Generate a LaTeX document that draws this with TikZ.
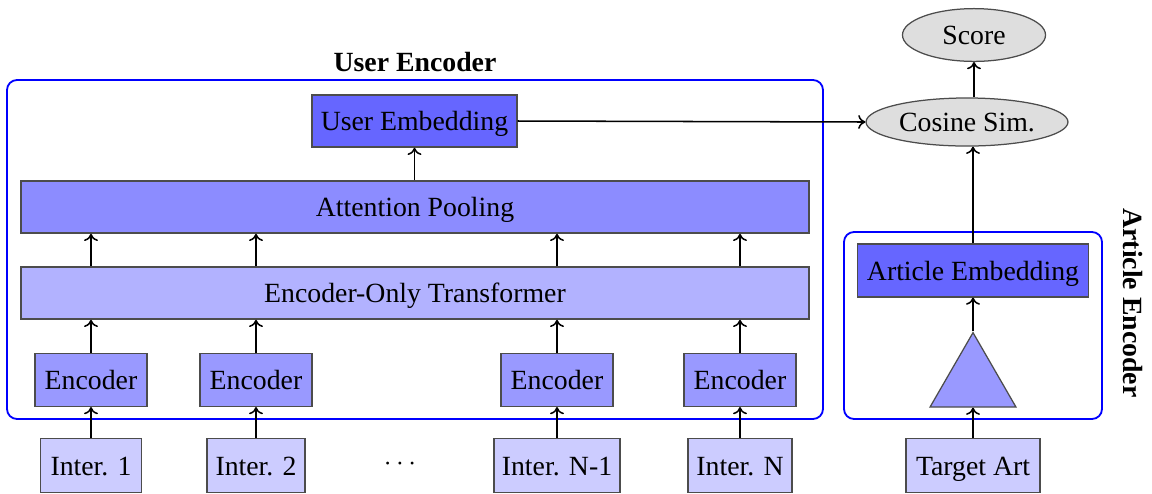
\documentclass[tikz,border=0pt]{standalone}
\usepackage{fontspec}
\setmainfont{Liberation Serif}
\usetikzlibrary{shapes.geometric,arrows.meta}
\begin{document}
\begin{tikzpicture}[x=0.36pt,y=-0.36pt,
  font=\fontsize{10}{12}\selectfont,
  box/.style={draw=black!70, line width=0.45pt, minimum height=18.8pt, inner sep=0pt, anchor=center, text depth=0pt, text height=7pt},
  cont/.style={draw=blue, line width=0.65pt, rounded corners=3.6pt},
  ell/.style={draw=black!70, fill=black!13, ellipse, inner sep=0pt, line width=0.45pt, text depth=0pt, text height=7pt},
  arr/.style={-{To[length=2.6pt,width=5pt]}, line width=0.55pt, black}]
\useasboundingbox (0,0) rectangle (1152,493);
% containers
\draw[cont] (7,80) rectangle (823,419);
\draw[cont] (844,232) rectangle (1102,419);
\node[font=\fontsize{10}{12}\selectfont\bfseries] (ueTitle) at (415,62) {User Encoder};
\node[font=\fontsize{10}{12}\selectfont\bfseries, rotate=-90] (aeTitle) at (1133,303) {Article Encoder};
% user side
\node[box, fill=blue!60, minimum width=73.8pt] (uemb) at (414.5,121) {User Embedding};
\node[box, fill=blue!45, minimum width=283.7pt] (pool) at (415,207) {Attention Pooling};
\node[box, fill=blue!30, minimum width=283.7pt] (trans) at (415,293) {Encoder-Only Transformer};
\foreach \n/\x in {1/91,2/256,3/557,4/740}{
  \node[box, fill=blue!40, minimum width=40.3pt, minimum height=19pt] (enc\n) at (\x,380) {Encoder};
}
\node[box, fill=blue!20, minimum width=36.4pt, minimum height=19.5pt] (in1) at (91,465.5) {Inter. 1};
\node[box, fill=blue!20, minimum width=35.3pt, minimum height=19.5pt] (in2) at (256,465.5) {Inter. 2};
\node[box, fill=blue!20, minimum width=45.4pt, minimum height=19.5pt] (in3) at (557,465.5) {Inter. N-1};
\node[box, fill=blue!20, minimum width=37.4pt, minimum height=19.5pt] (in4) at (740,465.5) {Inter. N};
\node (dots) at (400,464) {$\cdots$};
\foreach \n in {1,2,3,4}{
  \draw[arr] (in\n.north) -- (enc\n.south);
  \draw[arr] (enc\n.north) -- (trans.south -| enc\n.north);
  \draw[arr] (trans.north -| enc\n.north) -- (pool.south -| enc\n.north);
}
\draw[arr] (pool.north -| uemb.south) -- (uemb.south);
% right side
\node[ell, minimum width=72.7pt, minimum height=17.3pt] (cos) at (967,122) {Cosine Sim.};
\node[ell, minimum width=51.5pt, minimum height=19pt] (score) at (974,35) {Score};
\node[box, fill=blue!60, minimum width=83.2pt, minimum height=19pt] (aemb) at (973,270.5) {Article Embedding};
\node[draw=black!70, fill=blue!40, regular polygon, regular polygon sides=3, minimum size=35.7pt, inner sep=0pt, line width=0.45pt] (tri) at (973,382.2) {};
\node[box, fill=blue!20, minimum width=48.2pt, minimum height=19.5pt] (target) at (973,465.5) {Target Art};
\draw[arr] (uemb.east) -- (cos.west);
\draw[arr] (cos.north -| score.south) -- (score.south);
\draw[arr] (aemb.north) -- (cos.south -| aemb.north);
\draw[arr] (tri.corner 1) -- (aemb.south);
\draw[arr] (target.north) -- (tri.south);
\end{tikzpicture}
\end{document}
